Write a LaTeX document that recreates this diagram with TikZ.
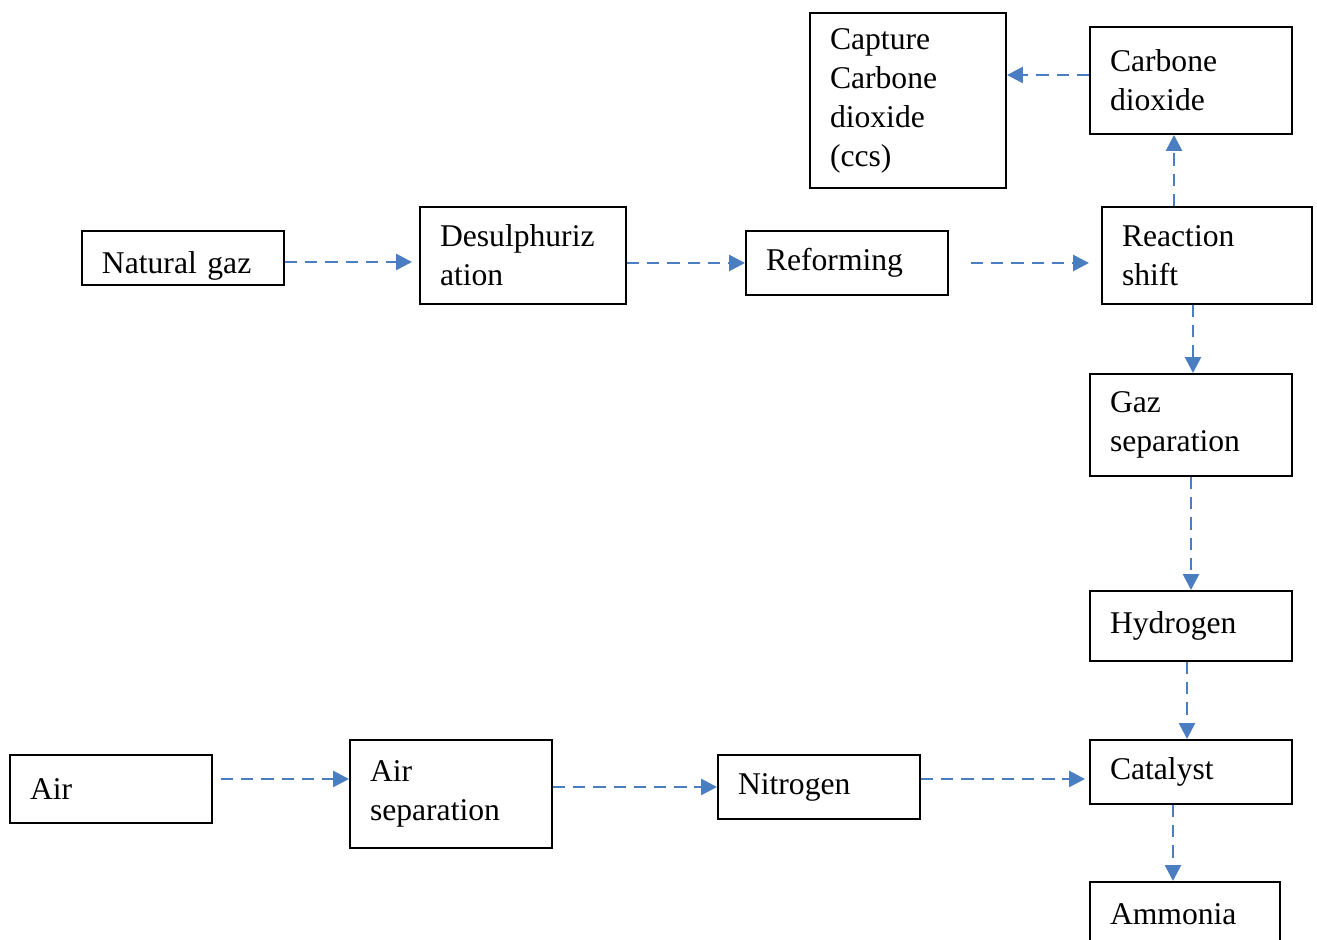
\documentclass[tikz,border=0pt]{standalone}
\usepackage{fontspec}
\setmainfont{Liberation Serif}
\usetikzlibrary{arrows.meta}
\definecolor{flowblue}{RGB}{74,126,193}
\tikzset{box/.style={draw, line width=1.1pt, inner xsep=0.4cm, inner ysep=0pt,
    text width=3.24cm, minimum width=4.04cm, align=left,
    font=\fontsize{18}{22.2}\selectfont}}
\tikzset{flow/.style={draw=flowblue, line width=1.5pt, dash pattern=on 7pt off 4.5pt,
    -{Triangle[length=9pt,width=9pt]}}}

\begin{document}
\begin{tikzpicture}
    \useasboundingbox (0,0) rectangle (26.34,18.8);

    % place nodes
    \node[box, text width=3.12cm, minimum width=3.92cm, minimum height=3.5cm] at (18.16, 16.79) (capture) {Capture\\Carbone\\dioxide\\(ccs)};
    \node[box, minimum height=2.14cm] at (23.82, 17.19) (co2) {Carbone\\dioxide};

    \node[box, minimum height=1.08cm, text height=0.74cm] at (3.66, 13.64)  (natgaz)    {Natural gaz};
    \node[box, text width=3.32cm, minimum width=4.12cm, minimum height=1.94cm] at (10.46, 13.69) (desulph) {Desulphuriz\\ation};
    \node[box, minimum height=1.28cm] at (16.94, 13.54) (reforming) {Reforming};
    \node[box, text width=3.4cm, minimum width=4.2cm, minimum height=1.94cm] at (24.14, 13.69) (shift) {Reaction\\shift};

    \node[box, minimum height=2.04cm] at (23.82, 10.3)  (gazsep)   {Gaz\\separation};
    \node[box, minimum height=1.4cm]  at (23.82, 6.28)  (hydrogen) {Hydrogen};

    \node[box, minimum height=1.36cm] at (2.22, 3.02)   (air)      {Air};
    \node[box, minimum height=2.16cm] at (9.02, 2.92)   (airsep)   {Air\\separation};
    \node[box, minimum height=1.28cm] at (16.38, 3.06)  (nitrogen) {Nitrogen};
    \node[box, minimum height=1.28cm] at (23.82, 3.36)  (catalyst) {Catalyst};
    \node[box, text width=3cm, minimum width=3.8cm, minimum height=1.28cm] at (23.7, 0.52) (ammonia) {Ammonia};

    % draw edges
    \draw[flow, shorten >=0.14cm] ([yshift=-0.08cm]natgaz.east) -- ([yshift=-0.08cm]natgaz.east -| desulph.west);
    \draw[flow] (desulph.east |- reforming.west) -- (reforming.west);
    \draw[flow, shorten >=0.24cm] ([xshift=0.44cm]reforming.east) -- (reforming.east -| shift.west);
    \draw[flow] ([xshift=-0.66cm]shift.north) -- ([xshift=-0.66cm]shift.north |- co2.south);
    \draw[flow] ([yshift=0.11cm]co2.west) -- ([yshift=0.11cm]co2.west -| capture.east);
    \draw[flow] ([xshift=-0.28cm]shift.south) -- ([xshift=-0.28cm]shift.south |- gazsep.north);
    \draw[flow] (gazsep.south) -- (hydrogen.north);
    \draw[flow] ([xshift=-0.08cm]hydrogen.south) -- ([xshift=-0.08cm]hydrogen.south |- catalyst.north);

    \draw[flow] ([xshift=0.16cm,yshift=0.2cm]air.east) -- ([yshift=0.2cm]air.east -| airsep.west);
    \draw[flow] (airsep.east |- nitrogen.west) -- (nitrogen.west);
    \draw[flow, shorten >=0.08cm] ([yshift=0.16cm]nitrogen.east) -- ([yshift=0.16cm]nitrogen.east -| catalyst.west);
    \draw[flow] ([xshift=-0.36cm]catalyst.south) -- ([xshift=-0.36cm]catalyst.south |- ammonia.north);
\end{tikzpicture}
\end{document}
